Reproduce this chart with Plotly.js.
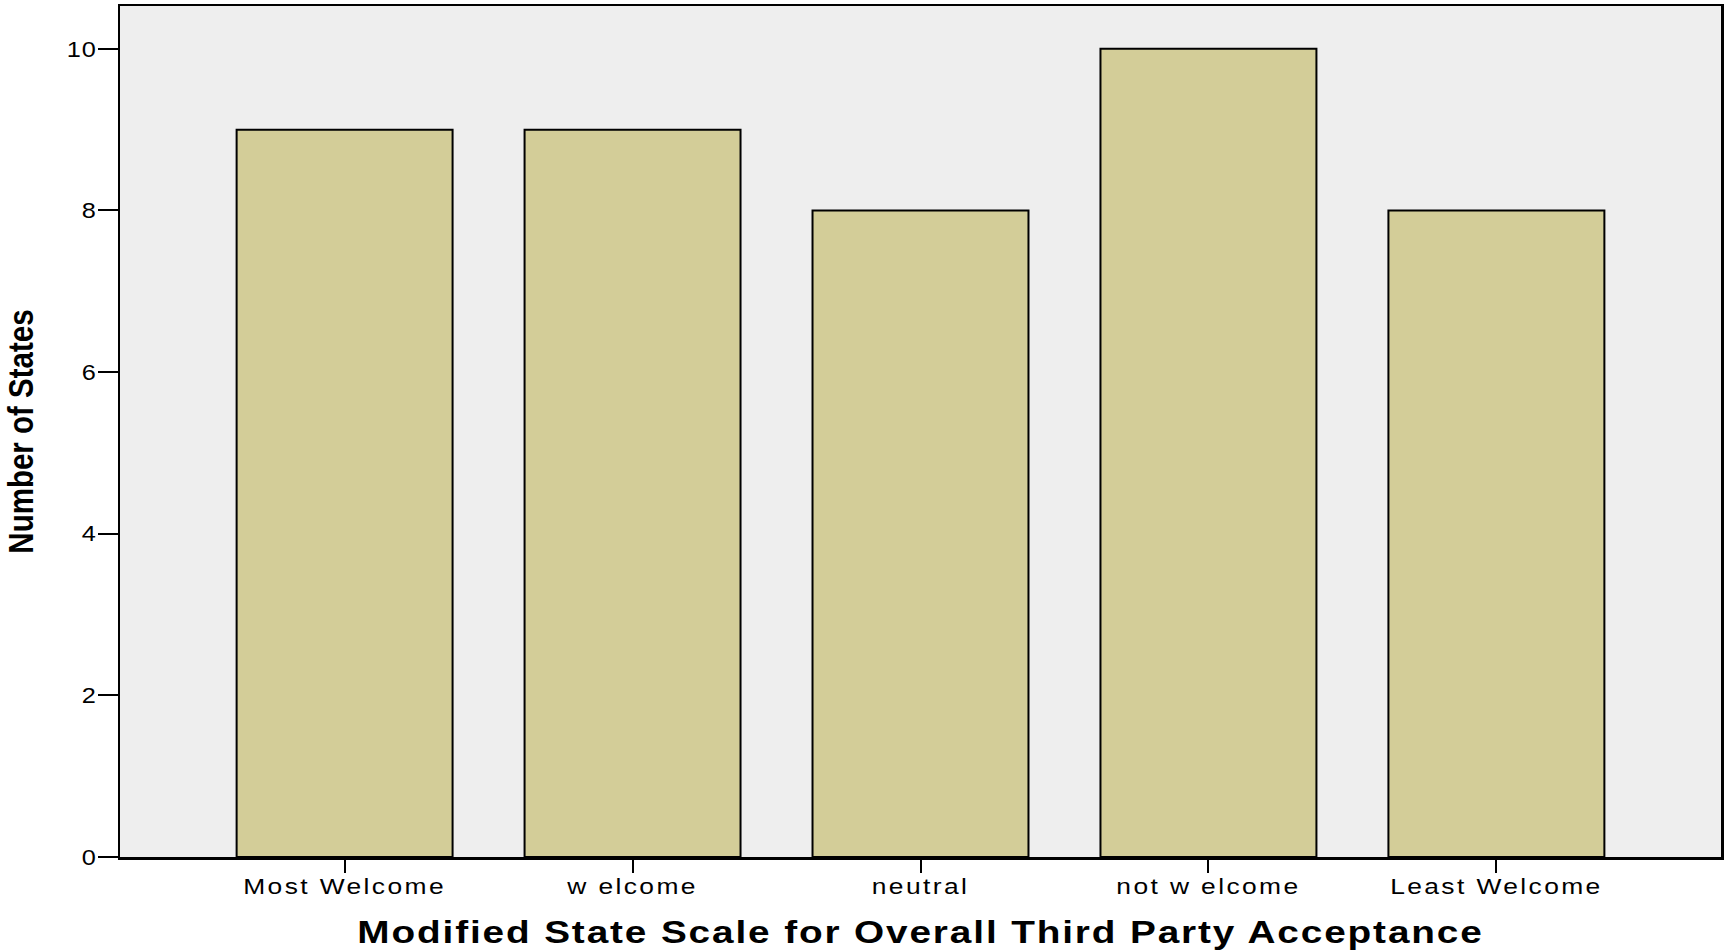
<!DOCTYPE html>
<html>
<head>
<meta charset="utf-8">
<script src="https://cdn.plot.ly/plotly-3.0.1.min.js"></script>
<style>
  html, body { margin: 0; padding: 0; background: #ffffff; }
  #chart { width: 1727px; height: 950px; }
  .xtick text { letter-spacing: 2px; }
  .ytick text { letter-spacing: 1px; }
  .g-xtitle text { letter-spacing: 1.5px; }
</style>
</head>
<body>
<div id="chart"></div>
<script>
const categories = ["Most Welcome", "w elcome", "neutral", "not w elcome", "Least Welcome"];
const counts = [9, 9, 8, 10, 8];
const yTickValues = [0, 2, 4, 6, 8, 10];
const xAxisTitle = "Modified State Scale for Overall Third Party Acceptance";
const yAxisTitle = "Number of States";

const trace = {
  type: "bar",
  x: categories,
  y: counts,
  width: 0.75,
  marker: { color: "#d3cd98", line: { color: "#000000", width: 2 } },
  hoverinfo: "x+y"
};

const layout = {
  width: 1727,
  height: 950,
  margin: { l: 120, r: 6, t: 6, b: 93 },
  paper_bgcolor: "#ffffff",
  plot_bgcolor: "#eeeeee",
  showlegend: false,
  bargap: 0.25,
  font: { family: "Liberation Sans, Arial, sans-serif", color: "#000000" },
  xaxis: {
    type: "category",
    range: [-0.78, 4.78],
    showgrid: false,
    zeroline: false,
    showline: true,
    linecolor: "#000000",
    linewidth: 2.5,
    mirror: true,
    ticks: "outside",
    ticklen: 13,
    tickwidth: 2,
    tickcolor: "#000000",
    ticklabelstandoff: -5,
    tickfont: { size: 22, family: "Liberation Sans, Arial, sans-serif", color: "#000000" },
    title: {
      text: xAxisTitle,
      standoff: 24,
      font: { size: 31, family: "Liberation Sans, Arial, sans-serif", color: "#000000", weight: "bold" }
    }
  },
  yaxis: {
    range: [0, 10.53],
    tickvals: yTickValues,
    showgrid: false,
    zeroline: false,
    showline: true,
    linecolor: "#000000",
    linewidth: 2.5,
    mirror: true,
    ticks: "outside",
    ticklen: 20,
    tickwidth: 2,
    tickcolor: "#000000",
    ticklabelstandoff: -4,
    tickfont: { size: 22, family: "Liberation Sans, Arial, sans-serif", color: "#000000" },
    title: {
      text: yAxisTitle,
      standoff: 30,
      font: { size: 36, family: "Liberation Sans, Arial, sans-serif", color: "#000000", weight: "bold" }
    }
  }
};

// stretch/condense text along its reading direction, around its anchor point
function stretchText(selector, sx) {
  document.querySelectorAll(selector).forEach(function (t) {
    if (t.dataset.stretched) return;
    const x = parseFloat(t.getAttribute("x")) || 0;
    const y = parseFloat(t.getAttribute("y")) || 0;
    const base = t.getAttribute("transform") || "";
    t.setAttribute("transform", base + " translate(" + x + "," + y + ") scale(" + sx + ",1) translate(" + (-x) + "," + (-y) + ")");
    t.dataset.stretched = "1";
  });
}

Plotly.newPlot("chart", [trace], layout, { displayModeBar: false, staticPlot: true }).then(function () {
  stretchText("#chart .g-ytitle text", 0.82);
  stretchText("#chart .g-xtitle text", 1.25);
  stretchText("#chart .xtick text", 1.2);
  stretchText("#chart .ytick text", 1.15);
});
</script>
</body>
</html>
